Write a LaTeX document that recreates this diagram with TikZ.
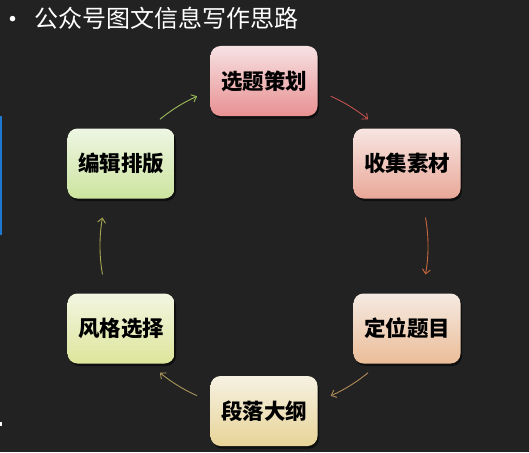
\documentclass[tikz,border=0pt]{standalone}
\usepackage{fontspec}
\newfontfamily\cjk{Noto Sans CJK SC}
\newfontfamily\cjkheavy{Noto Sans CJK SC Black}
\usetikzlibrary{arrows.meta,shadows,calc}
\definecolor{bg}{HTML}{222222}
\definecolor{sidebar}{HTML}{1E78D0}
\definecolor{aA}{HTML}{C0504D}
\definecolor{aB}{HTML}{C8683F}
\definecolor{aC}{HTML}{B08A58}
\definecolor{aD}{HTML}{A8955A}
\definecolor{aE}{HTML}{A8A850}
\definecolor{aF}{HTML}{9BBB59}
\definecolor{tA}{HTML}{F7E2E3}\definecolor{bA}{HTML}{E89092}
\definecolor{tB}{HTML}{F7E5E2}\definecolor{bB}{HTML}{E9A898}
\definecolor{tC}{HTML}{F5EAE2}\definecolor{bC}{HTML}{EBBD98}
\definecolor{tD}{HTML}{F6F1E2}\definecolor{bD}{HTML}{E8D498}
\definecolor{tE}{HTML}{F3F6E2}\definecolor{bE}{HTML}{DDE59A}
\definecolor{tF}{HTML}{EEF6E4}\definecolor{bF}{HTML}{CCE49E}
\tikzset{
  stepbox/.style={rounded corners=10pt, minimum width=107pt, minimum height=70pt,
    inner sep=0pt, text=black, font=\cjkheavy\fontsize{21.5}{24}\selectfont,
    drop shadow={shadow xshift=1.5pt, shadow yshift=-2.5pt, opacity=0.55, fill=black}},
  cyc/.style={line width=0.9pt, -{Straight Barb[length=4.5pt,width=8pt,line width=0.9pt]}},
}
\begin{document}
\begin{tikzpicture}[x=1pt,y=-1pt]
\fill[bg] (0,0) rectangle (529,452);
\useasboundingbox (0,0) rectangle (529,452);
% side marks
\fill[sidebar] (0,116) rectangle (1.5,235);
\fill[white] (0,422) rectangle (1.5,426);
% title
\fill[white] (12.5,18.6) circle (2.8pt);
\node[anchor=base west, inner sep=0pt, text=white, font=\cjk\fontsize{24}{28}\selectfont] (title) at (34,27.6) {公众号图文信息写作思路};
% centre
\coordinate (c) at (264,246);
% boxes
\node[stepbox, top color=tA, bottom color=bA] (n1) at (264,81) {选题策划};
\node[stepbox, top color=tB, bottom color=bB] (n2) at (407,163.5) {收集素材};
\node[stepbox, top color=tC, bottom color=bC] (n3) at (407,328.5) {定位题目};
\node[stepbox, top color=tD, bottom color=bD] (n4) at (264,411) {段落大纲};
\node[stepbox, top color=tE, bottom color=bE] (n5) at (121,328.5) {风格选择};
\node[stepbox, top color=tF, bottom color=bF] (n6) at (121,163.5) {编辑排版};
% arrow start points
\coordinate (s1) at ($(c)+(-66:164)$);
\coordinate (s2) at ($(c)+(-10:164)$);
\coordinate (s3) at ($(c)+(50.6:164)$);
\coordinate (s4) at ($(c)+(114.1:164)$);
\coordinate (s5) at ($(c)+(170:164)$);
\coordinate (s6) at ($(c)+(-129.4:164)$);
\draw[cyc, aA] (s1) arc[start angle=-66, end angle=-50.6, radius=164];
\draw[cyc, aB] (s2) arc[start angle=-10, end angle=10, radius=164];
\draw[cyc, aC] (s3) arc[start angle=50.6, end angle=66, radius=164];
\draw[cyc, aD] (s4) arc[start angle=114.1, end angle=129.4, radius=164];
\draw[cyc, aE] (s5) arc[start angle=170, end angle=190, radius=164];
\draw[cyc, aF] (s6) arc[start angle=-129.4, end angle=-114.1, radius=164];
\end{tikzpicture}
\end{document}
